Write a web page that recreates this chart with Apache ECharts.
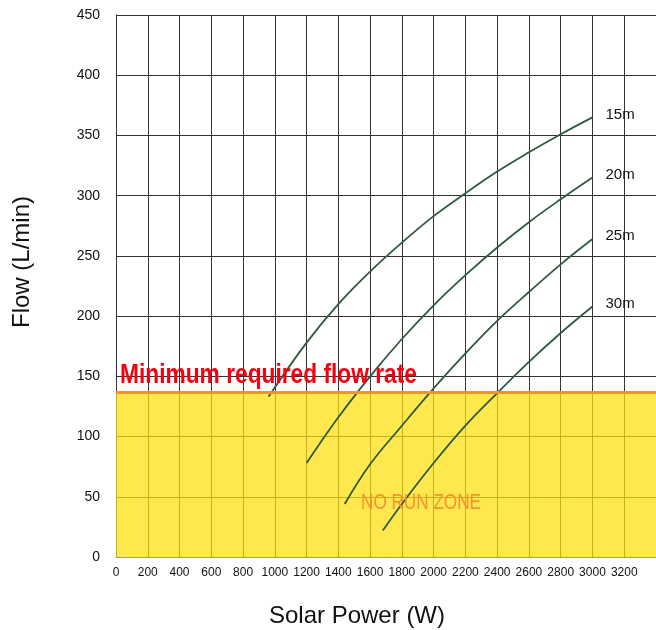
<!DOCTYPE html>
<html>
<head>
<meta charset="utf-8">
<script src="https://cdn.jsdelivr.net/npm/echarts@6/dist/echarts.min.js"></script>
<style>
  html, body { margin: 0; padding: 0; background: #fff; }
  #chart { width: 656px; height: 630px; }
</style>
</head>
<body>
<div id="chart"></div>
<script>
// pump curves: [solar power W, flow L/min]
var head15 = [[960, 133], [1200, 178], [1400, 210], [1600, 237], [1800, 261], [2000, 283], [2200, 302], [2400, 320], [2600, 336], [2800, 351], [3000, 365]];
var head20 = [[1200, 78], [1400, 116], [1600, 150], [1800, 181], [2000, 209], [2200, 234], [2400, 257], [2600, 278], [2800, 297], [3000, 315]];
var head25 = [[1440, 44], [1600, 77], [1800, 109], [2000, 140], [2200, 169], [2400, 196], [2600, 220], [2800, 243], [3000, 264]];
var head30 = [[1680, 22], [1800, 44], [2000, 78], [2200, 109], [2400, 136], [2600, 162], [2800, 186], [3000, 208]];
var headNames = ['15m', '20m', '25m', '30m'];
var minFlow = 137; // minimum required flow rate

var font = '"Liberation Sans", Arial, sans-serif';
var lineColor = '#2f5a3c';

// squeeze a text to a given width (the original uses a condensed face)
function squeeze(text, fontCss, width) {
    var ctx = document.createElement('canvas').getContext('2d');
    ctx.font = fontCss;
    return width / ctx.measureText(text).width;
}

var chart = echarts.init(document.getElementById('chart'));

function curve(name, data) {
    return {
        name: name,
        type: 'line',
        smooth: 0.4,
        showSymbol: false,
        silent: true,
        z: 3,
        lineStyle: { color: lineColor, width: 1.8 },
        endLabel: {
            show: true,
            formatter: name,
            color: '#111',
            fontSize: 15,
            fontFamily: font,
            distance: 13,
            offset: [0, -3]
        },
        data: data
    };
}

var redFont = 'bold 28px ' + font;
var zoneFont = '22px ' + font;

var option = {
    animation: false,
    grid: { left: 116, right: -4, top: 15, bottom: 73 },
    xAxis: {
        type: 'value',
        min: 0,
        max: 3400,
        interval: 200,
        axisLine: { show: true, lineStyle: { color: '#999', width: 1 } },
        axisTick: { show: false },
        axisLabel: {
            color: '#111', fontSize: 12, fontFamily: font, margin: 10, showMaxLabel: false,
            formatter: function (v) { return String(v); }
        },
        splitLine: { show: true, lineStyle: { color: '#333', width: 1 } }
    },
    yAxis: {
        type: 'value',
        min: 0,
        max: 450,
        interval: 50,
        axisLine: { show: true, lineStyle: { color: '#333', width: 1 } },
        axisTick: { show: false },
        axisLabel: { color: '#111', fontSize: 14, fontFamily: font, margin: 16 },
        splitLine: { show: true, lineStyle: { color: '#333', width: 1 } }
    },
    series: [
        curve(headNames[0], head15),
        curve(headNames[1], head20),
        curve(headNames[2], head25),
        curve(headNames[3], head30),
        {
            // no run zone overlay
            type: 'line',
            data: [],
            z: 10,
            silent: true,
            markArea: {
                silent: true,
                itemStyle: { color: 'rgba(255, 223, 12, 0.73)' },
                data: [[{ coord: [0, 0] }, { coord: [3400, minFlow] }]]
            },
            markLine: {
                silent: true,
                symbol: ['none', 'none'],
                label: { show: false },
                lineStyle: { color: '#f7941d', width: 3, type: 'solid' },
                data: [{ yAxis: minFlow }]
            }
        }
    ],
    graphic: [
        {
            type: 'text',
            x: 120, y: 375, z: 20,
            scaleX: squeeze('Minimum required flow rate', redFont, 297),
            style: {
                text: 'Minimum required flow rate',
                font: redFont,
                fill: '#f5000f',
                textVerticalAlign: 'middle'
            }
        },
        {
            type: 'text',
            x: 361, y: 503, z: 20,
            scaleX: squeeze('NO RUN ZONE', zoneFont, 120),
            style: {
                text: 'NO RUN ZONE',
                font: zoneFont,
                fill: '#f7932e',
                textVerticalAlign: 'middle'
            }
        },
        {
            type: 'text',
            x: 357, y: 616,
            style: {
                text: 'Solar Power (W)',
                font: '24px ' + font,
                fill: '#111',
                textAlign: 'center',
                textVerticalAlign: 'middle'
            }
        },
        {
            type: 'text',
            x: 22, y: 262,
            rotation: Math.PI / 2,
            style: {
                text: 'Flow (L/min)',
                font: '24px ' + font,
                fill: '#111',
                textAlign: 'center',
                textVerticalAlign: 'middle'
            }
        }
    ]
};

chart.setOption(option);
</script>
</body>
</html>
